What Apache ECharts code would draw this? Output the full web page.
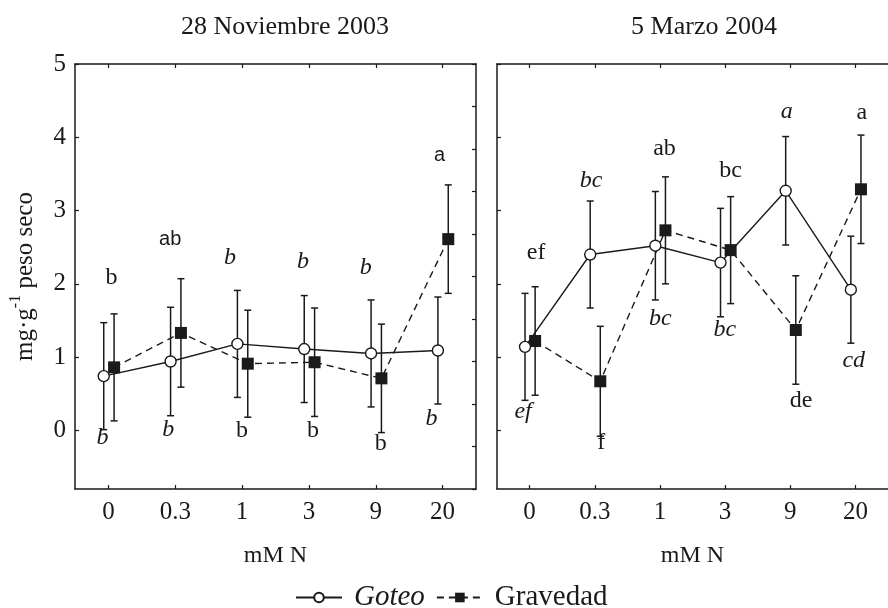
<!DOCTYPE html>
<html>
<head>
<meta charset="utf-8">
<title>mg g-1 peso seco</title>
<script src="https://cdn.jsdelivr.net/npm/echarts@6/dist/echarts.min.js"></script>
<style>
  html, body { margin: 0; padding: 0; background: #fff; }
  #chart { width: 888px; height: 608px; }
</style>
</head>
<body>
<div id="chart"></div>
<script>
// Nitrogen doses (mM N) shown on both panels
const doses = ['0', '0.3', '1', '3', '9', '20'];
const yTicks = [0, 1, 2, 3, 4, 5];

// 28 Noviembre 2003: means and error half-widths
const novGoteo = [0.74, 0.94, 1.18, 1.11, 1.05, 1.09];
const novGoteoErr = [0.73, 0.74, 0.73, 0.73, 0.73, 0.73];
const novGravedad = [0.86, 1.33, 0.91, 0.93, 0.71, 2.61];
const novGravedadErr = [0.73, 0.74, 0.73, 0.74, 0.74, 0.74];

// 5 Marzo 2004: means and error half-widths
const marGoteo = [1.14, 2.40, 2.52, 2.29, 3.27, 1.92];
const marGoteoErr = [0.73, 0.73, 0.74, 0.74, 0.74, 0.73];
const marGravedad = [1.22, 0.67, 2.73, 2.46, 1.37, 3.29];
const marGravedadErr = [0.74, 0.75, 0.73, 0.73, 0.74, 0.74];

// Significance letters
const novGoteoLetters = ['b', 'b', 'b', 'b', 'b', 'b'];
const novGravedadLetters = ['b', 'ab', 'b', 'b', 'b', 'a'];
const marGoteoLetters = ['ef', 'bc', 'bc', 'bc', 'a', 'cd'];
const marGravedadLetters = ['ef', 'f', 'ab', 'bc', 'de', 'a'];

// Where each letter sits, in axis units [dose index, y]
const novGoteoLetterPos = [[-0.09, -0.10], [0.895, 0.01], [1.82, 2.35], [2.91, 2.30], [3.85, 2.22], [4.836, 0.155]];
const novGravedadLetterPos = [[0.045, 2.09], [0.925, 2.60], [2.0, -0.01], [3.06, -0.01], [4.075, -0.18], [4.955, 3.75]];
const marGoteoLetterPos = [[-0.10, 0.26], [0.945, 3.41], [2.005, 1.52], [2.995, 1.38], [3.945, 4.35], [4.975, 0.95]];
const marGravedadLetterPos = [[0.10, 2.43], [1.10, -0.17], [2.07, 3.84], [3.085, 3.54], [4.165, 0.40], [5.10, 4.34]];
// Letter typeface per Gravedad point in the first panel
const novGravedadLetterFont = ['serif', 'sans', 'serif', 'serif', 'serif', 'sans'];

const INK = '#1a1a1a';
const SERIF = '"Liberation Serif", "Times New Roman", serif';
const SANS = '"Liberation Sans", Arial, sans-serif';
const GOTEO_SHIFT = -0.07;
const GRAVEDAD_SHIFT = 0.085;

function points(values, shift) {
  return values.map((v, i) => [i + shift, v]);
}
function bars(values, errs, shift) {
  return values.map((v, i) => [i + shift, v - errs[i], v + errs[i]]);
}

function errorBarItem(params, api) {
  const x = api.value(0);
  const top = api.coord([x, api.value(2)]);
  const bot = api.coord([x, api.value(1)]);
  const cap = 3.5;
  const style = { stroke: INK, lineWidth: 1.5 };
  return {
    type: 'group',
    children: [
      { type: 'line', shape: { x1: top[0], y1: top[1], x2: bot[0], y2: bot[1] }, style },
      { type: 'line', shape: { x1: top[0] - cap, y1: top[1], x2: top[0] + cap, y2: top[1] }, style },
      { type: 'line', shape: { x1: bot[0] - cap, y1: bot[1], x2: bot[0] + cap, y2: bot[1] }, style }
    ]
  };
}

function errorSeries(name, values, errs, shift, g) {
  return {
    name, type: 'custom', renderItem: errorBarItem,
    xAxisIndex: g * 2, yAxisIndex: g === 0 ? 0 : 2,
    data: bars(values, errs, shift), encode: { x: 0, y: [1, 2] },
    z: 2, silent: true
  };
}

function goteoSeries(values, g) {
  return {
    name: 'Goteo', type: 'line',
    xAxisIndex: g * 2, yAxisIndex: g === 0 ? 0 : 2,
    data: points(values, GOTEO_SHIFT),
    symbol: 'circle', symbolSize: 11,
    itemStyle: { color: '#fff', borderColor: INK, borderWidth: 1.4 },
    lineStyle: { color: INK, width: 1.4, type: 'solid' },
    z: 4, animation: false
  };
}

function gravedadSeries(values, g) {
  return {
    name: 'Gravedad', type: 'line',
    xAxisIndex: g * 2, yAxisIndex: g === 0 ? 0 : 2,
    data: points(values, GRAVEDAD_SHIFT),
    symbol: 'rect', symbolSize: 12,
    itemStyle: { color: INK, borderColor: INK, borderWidth: 0 },
    lineStyle: { color: INK, width: 1.4, type: [7, 5] },
    z: 3, animation: false
  };
}

function letterSeries(name, letters, pos, fonts, italic, g) {
  return {
    name, type: 'scatter',
    xAxisIndex: g * 2, yAxisIndex: g === 0 ? 0 : 2,
    symbolSize: 0, silent: true, z: 5,
    itemStyle: { opacity: 1 },
    data: letters.map((t, i) => {
      const sans = fonts && fonts[i] === 'sans';
      return {
        value: pos[i],
        label: {
          show: true, position: 'inside', formatter: t,
          color: INK, opacity: 1,
          fontFamily: sans ? SANS : SERIF,
          fontSize: sans ? 20 : 24,
          fontStyle: italic ? 'italic' : 'normal'
        }
      };
    })
  };
}

const axisLineStyle = { show: true, onZero: false, lineStyle: { color: INK, width: 1.5 } };
const tickStyle = { color: INK, width: 1.2 };

function xAxisPair(g) {
  const common = {
    type: 'value', gridIndex: g, min: -0.5, max: 5.5,
    splitLine: { show: false },
    axisLine: axisLineStyle,
    axisTick: { show: true, inside: true, length: 4, customValues: yTicks.slice(), lineStyle: tickStyle }
  };
  return [
    Object.assign({}, common, {
      position: 'bottom',
      axisLabel: {
        show: true, customValues: yTicks.slice(), margin: 11,
        formatter: v => doses[Math.round(v)],
        fontFamily: SERIF, fontSize: 25, color: INK
      },
      name: 'mM N', nameLocation: 'middle', nameGap: 55,
      nameTextStyle: { fontFamily: SERIF, fontSize: 24, color: INK }
    }),
    Object.assign({}, common, { position: 'top', axisLabel: { show: false } })
  ];
}

const chart = echarts.init(document.getElementById('chart'), null, { renderer: 'canvas' });

chart.setOption({
  backgroundColor: '#fff',
  animation: false,
  title: [
    { text: '28 Noviembre 2003', left: 280, top: 9, textAlign: 'center',
      textStyle: { fontFamily: SERIF, fontSize: 26, fontWeight: 'normal', color: INK } },
    { text: '5 Marzo 2004', left: 699, top: 9, textAlign: 'center',
      textStyle: { fontFamily: SERIF, fontSize: 26, fontWeight: 'normal', color: INK } }
  ],
  legend: {
    left: 295, top: 583, padding: 0, itemWidth: 46, itemHeight: 12, itemGap: 11,
    textStyle: { fontFamily: SERIF, fontSize: 29, color: INK, padding: [0, 0, 0, 7] },
    data: [
      { name: 'Goteo', textStyle: { fontStyle: 'italic' } },
      { name: 'Gravedad' }
    ]
  },
  grid: [
    { left: 75, top: 64, width: 401, height: 425 },
    { left: 497, top: 64, width: 402, height: 425 }
  ],
  xAxis: xAxisPair(0).concat(xAxisPair(1)),
  yAxis: [
    {
      type: 'value', gridIndex: 0, position: 'left', min: -0.8, max: 5,
      splitLine: { show: false },
      axisLine: axisLineStyle,
      axisTick: { show: true, inside: true, length: 4, customValues: yTicks.slice(), lineStyle: tickStyle },
      axisLabel: { show: true, customValues: yTicks.slice(), margin: 9, fontFamily: SERIF, fontSize: 25, color: INK },
      name: '{n|mg·g}{s|-1}{n| peso seco}', nameLocation: 'middle', nameRotate: 90, nameGap: 37,
      nameTextStyle: {
        rich: {
          n: { fontFamily: SERIF, fontSize: 25, color: INK, lineHeight: 30, verticalAlign: 'bottom' },
          s: { fontFamily: SERIF, fontSize: 16, color: INK, lineHeight: 30, verticalAlign: 'top' }
        }
      }
    },
    {
      type: 'value', gridIndex: 0, position: 'right', min: 0, max: 10, interval: 1,
      splitLine: { show: false },
      axisLine: axisLineStyle,
      axisTick: { show: true, inside: true, length: 4, lineStyle: tickStyle },
      axisLabel: { show: false }
    },
    {
      type: 'value', gridIndex: 1, position: 'left', min: -0.8, max: 5,
      splitLine: { show: false },
      axisLine: axisLineStyle,
      axisTick: { show: true, inside: true, length: 4, customValues: yTicks.slice(), lineStyle: tickStyle },
      axisLabel: { show: false }
    }
  ],
  series: [
    errorSeries('novGoteoErr', novGoteo, novGoteoErr, GOTEO_SHIFT, 0),
    errorSeries('novGravedadErr', novGravedad, novGravedadErr, GRAVEDAD_SHIFT, 0),
    gravedadSeries(novGravedad, 0),
    goteoSeries(novGoteo, 0),
    letterSeries('novGoteoLetters', novGoteoLetters, novGoteoLetterPos, null, true, 0),
    letterSeries('novGravedadLetters', novGravedadLetters, novGravedadLetterPos, novGravedadLetterFont, false, 0),

    errorSeries('marGoteoErr', marGoteo, marGoteoErr, GOTEO_SHIFT, 1),
    errorSeries('marGravedadErr', marGravedad, marGravedadErr, GRAVEDAD_SHIFT, 1),
    gravedadSeries(marGravedad, 1),
    goteoSeries(marGoteo, 1),
    letterSeries('marGoteoLetters', marGoteoLetters, marGoteoLetterPos, null, true, 1),
    letterSeries('marGravedadLetters', marGravedadLetters, marGravedadLetterPos, null, false, 1)
  ]
});
</script>
</body>
</html>
